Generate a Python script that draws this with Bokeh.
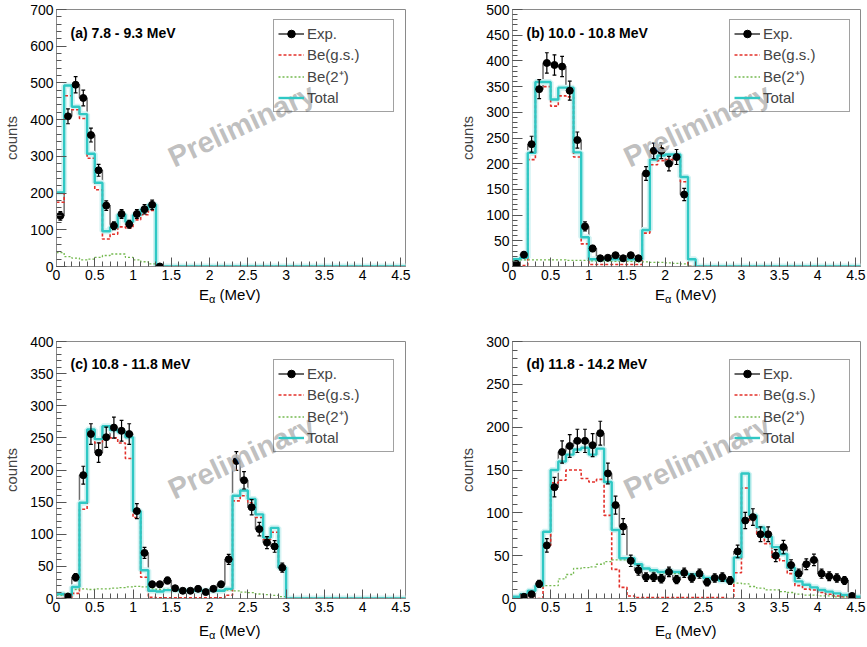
import numpy as np
from bokeh.plotting import figure
from bokeh.models import FixedTicker, Legend, LegendItem, Label, Range1d, Div
from bokeh.layouts import column, row
from bokeh.embed import file_html
from bokeh.resources import INLINE

# ---------------- data (counts per 0.1 MeV bin, first bin 0.0-0.1 MeV) ----------------
BIN_WIDTH = 0.1
N_BINS = 46
X_MAX = 4.56
nan = float("nan")

x_tick_values = [0, 0.5, 1, 1.5, 2, 2.5, 3, 3.5, 4, 4.5]
x_tick_labels = ["0", "0.5", "1", "1.5", "2", "2.5", "3", "3.5", "4", "4.5"]

panel_titles = ["(a) 7.8 - 9.3 MeV", "(b) 10.0 - 10.8 MeV",
                "(c) 10.8 - 11.8 MeV", "(d) 11.8 - 14.2 MeV"]
y_max = [700, 500, 400, 300]
y_ticks_a = [0, 100, 200, 300, 400, 500, 600, 700]
y_ticks_b = [0, 50, 100, 150, 200, 250, 300, 350, 400, 450, 500]
y_ticks_c = [0, 50, 100, 150, 200, 250, 300, 350, 400]
y_ticks_d = [0, 50, 100, 150, 200, 250, 300]
y_minor_step = [20, 10, 10, 10]

legend_labels = ["Exp.", "Be(g.s.)", "Be(2\u207a)", "Total"]
x_title_main = "E"
x_title_sub = "\u03b1"
x_title_unit = " (MeV)"
y_title = "counts"

a_exp = [138, 409, 495, 459, 358, 262, 166, 111, 143, 115, 143, 156, 168, 0]
a_gs = [175, 465, 427, 403, 295, 209, 75, 88, 108, 105, 127, 141, 153]
a_2p = [38, 27, 23, 18, 20, 25, 30, 34, 34, 25, 18, 13, 7]
a_tot = [202, 493, 435, 415, 307, 228, 96, 107, 141, 122, 140, 155, 168]

b_exp = [5, 23, 238, 345, 396, 392, 389, 342, 246, 78, 35, 16, 17, 22, 16, 22, 16,
         181, 225, 225, 200, 213, 140]
b_gs = [2, 2, 208, 349, 350, 312, 332, 330, 213, 44, 4, 4, 4, 4, 4, 4, 4,
        65, 198, 206, 208, 208, 165]
b_2p = [12, 13, 13, 13, 13, 13, 13, 12, 12, 12, 11, 11, 10, 10, 10, 10, 9,
        9, 8, 8, 7, 6, 5]
b_tot = [14, 17, 221, 359, 359, 325, 348, 348, 222, 57, 14, 14, 14, 14, 14, 14, 14,
         71, 208, 216, 218, 218, 174, 14]

c_exp = [nan, 3, 33, 192, 256, 227, 251, 266, 261, 256, 136, 71, 22, 22, 28, 16, 12,
         12, 15, 10, 15, 22, 61, 214, 184, 142, 108, 87, 81, 48]
c_gs = [0, 0, 8, 139, 260, 242, 253, 250, 242, 218, 126, 33, 2, 1, 1, 1, 1,
        1, 1, 1, 1, 1, 5, 152, 160, 149, 126, 92, 103, 46]
c_2p = [5, 8, 14, 15, 14, 15, 15, 16, 17, 18, 19, 18, 15, 14, 14, 13, 13,
        13, 13, 13, 13, 13, 13, 12, 10, 9, 7, 6, 5, 3]
c_tot = [7, 5, 18, 149, 263, 248, 268, 262, 259, 251, 136, 44, 12, 11, 13, 13, 12,
         12, 12, 12, 12, 12, 15, 160, 168, 155, 131, 95, 110, 48]

d_exp = [nan, 2, 5, 17, 62, 130, 171, 178, 184, 184, 179, 193, 146, 109, 84, 44, 33,
         25, 25, 23, 31, 22, 30, 24, 29, 19, 24, 25, 21, 55, 91, 95, 75, 75, 50, 60,
         39, 29, 40, 45, 29, 26, 24, 21, 3]
d_gs = [0, 0, 0, 0, 62, 135, 138, 150, 150, 140, 136, 139, 97, 34, 13, 3, 1,
        1, 1, 1, 1, 1, 1, 1, 1, 1, 1, 1, 0, 30, 129, 91, 75, 64, 48, 44,
        29, 15, 11, 10, 7, 5, 3, 2, 2, 1]
d_2p = [2, 5, 9, 14, 15, 15, 23, 28, 35, 36, 37, 40, 43, 45, 45, 44, 40,
        35, 32, 30, 30, 29, 28, 27, 27, 24, 23, 21, 20, 18, 17, 14, 12, 10, 10, 8,
        7, 5, 4, 4, 3, 3, 2, 2, 1, 1]
d_tot = [2, 5, 9, 15, 78, 150, 160, 168, 174, 176, 168, 175, 136, 80, 47, 47, 40,
         35, 33, 31, 32, 31, 29, 28, 27, 24, 23, 21, 20, 48, 146, 97, 83, 72, 60, 52,
         36, 20, 16, 13, 10, 8, 6, 4, 3, 2]

panels = [
    (a_exp, a_gs, a_2p, a_tot, y_ticks_a),
    (b_exp, b_gs, b_2p, b_tot, y_ticks_b),
    (c_exp, c_gs, c_2p, c_tot, y_ticks_c),
    (d_exp, d_gs, d_2p, d_tot, y_ticks_d),
]

# ---------------- styling / layout ----------------
FONT = "Liberation Sans"
C_EXP_HIST = "#6e6e6e"
C_RED = "#e3302a"
C_GREEN = "#74b94f"
C_CYAN = "#2fc8c4"
C_GLOW = "#d4f3f3"
C_FRAME = "#8a8a8a"

col_geom = [dict(width=452, left=56, right=47), dict(width=415, left=60, right=7)]
row_geom = [dict(height=286, top=9, bottom=20, div_h=44, div_pad=0, leg_top=13, title_top=23),
            dict(height=288, top=11, bottom=20, div_h=29, div_pad=4, leg_top=21, title_top=22)]
LEGEND_H = 90


def padded(vals):
    arr = np.full(N_BINS, 0.0)
    v = np.asarray(vals, dtype=float)
    arr[:len(v)] = v
    return arr


def make_panel(i):
    exp, gs, two, tot, yticks = panels[i]
    cg = col_geom[i % 2]
    rg = row_geom[i // 2]
    fw = cg["width"] - cg["left"] - cg["right"]
    fh = rg["height"] - rg["top"] - rg["bottom"]
    ymax = y_max[i]

    p = figure(width=cg["width"], height=rg["height"], output_backend="svg",
               toolbar_location=None, title=None,
               x_range=Range1d(0, X_MAX), y_range=Range1d(0, ymax),
               min_border_left=cg["left"], min_border_right=cg["right"],
               min_border_top=rg["top"], min_border_bottom=rg["bottom"])
    p.grid.visible = False
    p.background_fill_color = "white"
    p.border_fill_color = "white"
    p.outline_line_color = C_FRAME
    p.outline_line_width = 1

    for ax in (p.xaxis[0], p.yaxis[0]):
        ax.axis_line_color = C_FRAME
        ax.major_tick_line_color = "#555555"
        ax.minor_tick_line_color = "#555555"
        ax.major_tick_out = 0
        ax.minor_tick_out = 0
        ax.major_label_text_font = FONT
        ax.major_label_text_font_size = "14px"
        ax.major_label_text_color = "black"
        ax.major_label_standoff = 3

    p.xaxis.ticker = FixedTicker(ticks=x_tick_values,
                                 minor_ticks=list(np.arange(0, 4.6, BIN_WIDTH)))
    p.xaxis.major_label_overrides = {float(v): t for v, t in zip(x_tick_values, x_tick_labels)}
    p.xaxis.major_tick_in = 9
    p.xaxis.minor_tick_in = 5

    p.yaxis.ticker = FixedTicker(ticks=yticks,
                                 minor_ticks=list(np.arange(0, ymax + 1, y_minor_step[i])))
    p.yaxis.major_tick_in = 10
    p.yaxis.minor_tick_in = 5
    p.yaxis.axis_label = y_title
    p.yaxis.axis_label_text_font = FONT
    p.yaxis.axis_label_text_font_size = "15px"
    p.yaxis.axis_label_text_font_style = "normal"
    p.yaxis.axis_label_standoff = 7

    edges = np.arange(N_BINS + 1) * BIN_WIDTH
    centers = edges[:-1] + BIN_WIDTH / 2

    exp_hist = np.nan_to_num(padded(exp), nan=0.0)
    gs_arr = padded(gs)
    two_arr = padded(two)
    tot_arr = padded(tot)

    def step(vals, **kw):
        return p.step(x=edges, y=np.append(vals, 0.0), mode="after", **kw)

    step(exp_hist, line_color=C_EXP_HIST, line_width=1.5)
    step(tot_arr, line_color=C_GLOW, line_width=6)
    r_gs = step(gs_arr, line_color=C_RED, line_width=1.6, line_dash="3 2")
    r_2p = step(two_arr, line_color=C_GREEN, line_width=1.3, line_dash="2 2")
    r_tot = step(tot_arr, line_color=C_CYAN, line_width=2.4)

    n = len(exp)
    xc = centers[:n]
    ye = np.asarray(exp, dtype=float)
    ok = ~np.isnan(ye)
    xc, ye = xc[ok], ye[ok]
    err = np.sqrt(ye)
    r_err = p.segment(x0=xc, y0=ye - err, x1=xc, y1=ye + err,
                      line_color="black", line_width=1.2)
    cap = 0.025
    p.segment(x0=np.concatenate([xc - cap, xc - cap]),
              y0=np.concatenate([ye - err, ye + err]),
              x1=np.concatenate([xc + cap, xc + cap]),
              y1=np.concatenate([ye - err, ye + err]),
              line_color="black", line_width=1.2)
    r_pts = p.scatter(x=xc, y=ye, marker="circle", size=7,
                      fill_color="black", line_color="black")

    px2x = X_MAX / fw
    px2y = ymax / fh

    p.add_layout(Label(x=14 * px2x, y=ymax - rg["title_top"] * px2y,
                       text=panel_titles[i], text_font=FONT, text_font_size="14px",
                       text_font_style="bold", text_baseline="middle",
                       text_align="left", text_color="black"))

    legend = Legend(items=[
        LegendItem(label=legend_labels[0], renderers=[r_err, r_pts]),
        LegendItem(label=legend_labels[1], renderers=[r_gs]),
        LegendItem(label=legend_labels[2], renderers=[r_2p]),
        LegendItem(label=legend_labels[3], renderers=[r_tot]),
    ], location=(217, fh - rg["leg_top"] - LEGEND_H))
    legend.label_text_font = FONT
    legend.label_text_font_size = "15px"
    legend.border_line_color = "#444444"
    legend.border_line_width = 1
    legend.background_fill_alpha = 0.0
    legend.glyph_width = 26
    legend.glyph_height = 19
    legend.label_height = 19
    legend.label_width = 82
    legend.label_standoff = 3
    legend.spacing = 2
    legend.padding = 4
    legend.margin = 0
    p.add_layout(legend)

    p.add_layout(Label(x=0.53 * X_MAX, y=0.55 * ymax, text="Preliminary",
                       text_font=FONT, text_font_size="29px", text_font_style="bold",
                       text_color="#b8b8b8", text_alpha=0.9, angle=0.44,
                       text_align="center", text_baseline="middle", level="overlay"))

    pad_left = int(cg["left"] + fw / 2 - 31)
    html = ('<div style="padding-left:%dpx;padding-top:%dpx;text-align:left;'
            'font-family:\'Liberation Sans\',sans-serif;font-size:15px;line-height:18px;'
            'color:black;margin:0;white-space:nowrap;">%s<sub style="font-size:11px;'
            'line-height:0;vertical-align:-3px;">%s</sub>%s</div>'
            % (pad_left, rg["div_pad"], x_title_main, x_title_sub, x_title_unit))
    div = Div(text=html, width=cg["width"], height=rg["div_h"], margin=(0, 0, 0, 0))
    return column(p, div, spacing=0)


panels_layout = [make_panel(i) for i in range(4)]
layout = column(row(panels_layout[0], panels_layout[1], spacing=0),
                row(panels_layout[2], panels_layout[3], spacing=0), spacing=0)

open("out.html", "w").write(file_html(layout, INLINE))
